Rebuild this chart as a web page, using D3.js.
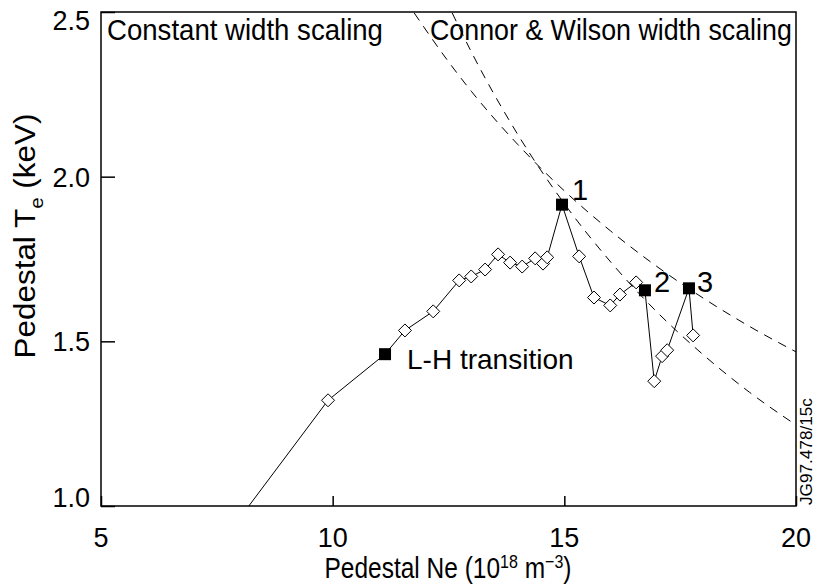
<!DOCTYPE html>
<html>
<head>
<meta charset="utf-8">
<script src="https://cdn.jsdelivr.net/npm/d3@7"></script>
<style>
  body { margin: 0; background: #fff; }
  text { font-family: "Liberation Sans", Arial, Helvetica, sans-serif; fill: #000; }
</style>
</head>
<body>
<div id="plotspace"></div>
<script>
// pedestal density (1e18 m^-3) and temperature (keV) along the discharge
var ne = [8.19, 9.90, 11.13, 11.56, 12.17, 12.73, 12.99, 13.29, 13.57, 13.83, 14.09, 14.37, 14.54, 14.63,
          14.95, 15.32, 15.64, 15.99, 16.20, 16.55, 16.74, 16.94, 17.11, 17.22, 17.69, 17.78];
var te = [1.000, 1.321, 1.461, 1.533, 1.591, 1.685, 1.697, 1.718, 1.764, 1.739, 1.727, 1.752, 1.736, 1.755,
          1.915, 1.758, 1.633, 1.609, 1.642, 1.679, 1.655, 1.379, 1.455, 1.473, 1.661, 1.518];
var marker = ["none", "diamond", "square", "diamond", "diamond", "diamond", "diamond", "diamond", "diamond",
              "diamond", "diamond", "diamond", "diamond", "diamond", "square", "diamond", "diamond", "diamond",
              "diamond", "diamond", "square", "diamond", "diamond", "diamond", "square", "diamond"];

// dashed scaling curves
var curveA_ne = [11.76, 12.5, 13, 14, 15, 16, 17, 18, 19, 20];
var curveA_te = [2.497, 2.349, 2.258, 2.097, 1.957, 1.835, 1.727, 1.631, 1.545, 1.468];
var curveB_ne = [12.58, 13, 14, 15, 16, 17, 18, 19, 20];
var curveB_te = [2.497, 2.377, 2.127, 1.918, 1.741, 1.589, 1.459, 1.345, 1.246];

var xticks = [5, 10, 15, 20];
var yticks = [1.0, 1.5, 2.0, 2.5];

var labelText = ["L-H transition", "1", "2", "3"];
var labelIndex = [2, 14, 20, 24];

var width = 817, height = 586;
var m = {left: 101, top: 12, right: 21, bottom: 80};

var svg = d3.select("#plotspace").
    append("svg").
    attr("width", width).
    attr("height", height);

var x = d3.scaleLinear().domain([5, 20]).range([m.left, width - m.right]);
var y = d3.scaleLinear().domain([1.0, 2.5]).range([height - m.bottom, m.top]);

// text squeezed/stretched horizontally to a measured length
var fitted = function(px, py, rot, size, anchor, len) {
    var g = svg.append("g");
    var t = g.append("text").attr("text-anchor", anchor).style("font-size", size + "px");
    return {
        t: t,
        done: function() {
            var s = len / t.node().getComputedTextLength();
            g.attr("transform", "translate(" + px + "," + py + ") rotate(" + rot + ") scale(" + s + ",1)");
        }
    };
};

var clip = svg.append("clipPath").attr("id", "plotclip");
clip.append("rect").
    attr("x", m.left).attr("y", m.top).
    attr("width", x(20) - x(5)).attr("height", y(1.0) - y(2.5));

// dashed curves
var curveLine = d3.line().
    x(function(d) { return x(d[0]); }).
    y(function(d) { return y(d[1]); }).
    curve(d3.curveMonotoneX);
[[curveA_ne, curveA_te], [curveB_ne, curveB_te]].forEach(function(c) {
    var pts = c[0].map(function(v, i) { return [v, c[1][i]]; });
    svg.append("path").
        attr("clip-path", "url(#plotclip)").
        attr("d", curveLine(pts)).
        attr("fill", "none").
        attr("stroke", "#000").
        attr("stroke-width", 1).
        attr("stroke-dasharray", "9,7");
});

// data line
var pts = ne.map(function(v, i) { return [v, te[i], marker[i]]; });
svg.append("path").
    attr("clip-path", "url(#plotclip)").
    attr("d", d3.line().x(function(d) { return x(d[0]); }).y(function(d) { return y(d[1]); })(pts)).
    attr("fill", "none").
    attr("stroke", "#000").
    attr("stroke-width", 1);

svg.selectAll("path.diamond").
    data(pts.filter(function(d) { return d[2] == "diamond"; })).
    enter().append("path").
    attr("class", "diamond").
    attr("d", function(d) {
        var cx = x(d[0]), cy = y(d[1]), r = 6.5;
        return "M" + cx + "," + (cy - r) + "L" + (cx + r) + "," + cy + "L" + cx + "," + (cy + r) + "L" + (cx - r) + "," + cy + "Z";
    }).
    attr("fill", "#fff").
    attr("stroke", "#000").
    attr("stroke-width", 1);

svg.selectAll("rect.square").
    data(pts.filter(function(d) { return d[2] == "square"; })).
    enter().append("rect").
    attr("class", "square").
    attr("x", function(d) { return x(d[0]) - 6; }).
    attr("y", function(d) { return y(d[1]) - 6; }).
    attr("width", 12).
    attr("height", 12).
    attr("fill", "#000");

// frame
svg.append("rect").
    attr("x", x(5)).attr("y", y(2.5)).
    attr("width", x(20) - x(5)).attr("height", y(1.0) - y(2.5)).
    attr("fill", "none").
    attr("stroke", "#000").
    attr("stroke-width", 1.5);

// axes, ticks pointing inward
var xaxis = d3.axisTop(x).tickValues(xticks).tickSize(10).tickFormat("");
svg.append("g").
    attr("transform", "translate(0," + y(1.0) + ")").
    call(xaxis).
    call(function(g) { g.select(".domain").remove(); });
var yaxis = d3.axisRight(y).tickValues(yticks).tickSize(14).tickFormat("");
svg.append("g").
    attr("transform", "translate(" + x(5) + ",0)").
    call(yaxis).
    call(function(g) { g.select(".domain").remove(); });
svg.selectAll(".tick line").attr("stroke-width", 1.5);

svg.selectAll("text.xlab").
    data(xticks).
    enter().append("text").
    attr("class", "xlab").
    attr("x", function(d) { return x(d); }).
    attr("y", y(1.0) + 41).
    attr("text-anchor", "middle").
    style("font-size", "27px").
    text(function(d) { return d; });

// end labels sit inside the axis span, as in the original
svg.selectAll("text.ylab").
    data(yticks).
    enter().append("text").
    attr("class", "ylab").
    attr("x", x(5) - 11).
    attr("y", function(d) { return y(d) + (d == 2.5 ? 18 : (d == 1.0 ? 1 : 10)); }).
    attr("text-anchor", "end").
    style("font-size", "27px").
    text(function(d) { return d.toFixed(1); });

// axis titles
var xt = fitted(448, 578, 0, 29, "middle", 247);
xt.t.append("tspan").text("Pedestal Ne (10");
xt.t.append("tspan").attr("dy", -10).style("font-size", "19px").text("18");
xt.t.append("tspan").attr("dy", 10).text(" m");
xt.t.append("tspan").attr("dy", -10).style("font-size", "19px").text("\u22123");
xt.t.append("tspan").attr("dy", 10).text(")");
xt.done();

var yt = fitted(35, 236, -90, 29, "middle", 245);
yt.t.append("tspan").text("Pedestal T");
yt.t.append("tspan").attr("dy", 8).style("font-size", "19px").text("e");
yt.t.append("tspan").attr("dy", -8).text(" (keV)");
yt.done();

// panel titles
var t1 = fitted(107, 40, 0, 29, "start", 276);
t1.t.text("Constant width scaling");
t1.done();
var t2 = fitted(430, 40, 0, 29, "start", 362);
t2.t.text("Connor & Wilson width scaling");
t2.done();

// point labels
var offs = [[22, 15], [10, -5], [9, 2], [8, 4]];
labelText.forEach(function(t, i) {
    var k = labelIndex[i];
    svg.append("text").
        attr("x", x(ne[k]) + offs[i][0]).
        attr("y", y(te[k]) + offs[i][1]).
        style("font-size", i == 0 ? "28px" : "29px").
        text(t);
});

// figure reference
var jg = fitted(812, 505, -90, 16, "start", 107);
jg.t.text("JG97.478/15c");
jg.done();
</script>
</body>
</html>
